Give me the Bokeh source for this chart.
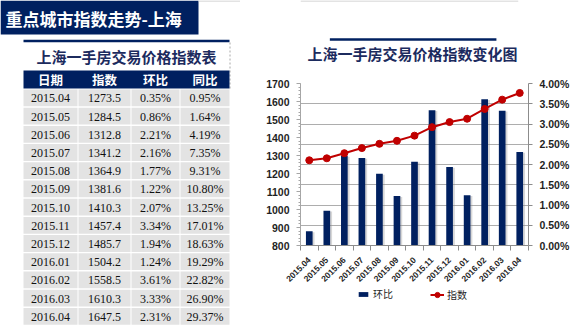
import numpy as np
from bokeh.plotting import figure
from bokeh.layouts import row, column
from bokeh.models import (Range1d, LinearAxis, SingleIntervalTicker, FixedTicker,
                          NumeralTickFormatter, Grid, Legend, LegendItem)
from bokeh.core.properties import value
from bokeh.embed import file_html
from bokeh.resources import INLINE

# ---------------- data ----------------
months = ["2015.04", "2015.05", "2015.06", "2015.07", "2015.08", "2015.09", "2015.10",
          "2015.11", "2015.12", "2016.01", "2016.02", "2016.03", "2016.04"]
index_values = [1273.5, 1284.5, 1312.8, 1341.2, 1364.9, 1381.6, 1410.3,
                1457.4, 1485.7, 1504.2, 1558.5, 1610.3, 1647.5]
mom_pct = [0.35, 0.86, 2.21, 2.16, 1.77, 1.22, 2.07, 3.34, 1.94, 1.24, 3.61, 3.33, 2.31]
yoy_pct = [0.95, 1.64, 4.19, 7.35, 9.31, 10.80, 13.25, 17.01, 18.63, 19.29, 22.82, 26.90, 29.37]
table_headers = ["日期", "指数", "环比", "同比"]
page_title = "重点城市指数走势-上海"
table_title = "上海一手房交易价格指数表"
chart_title = "上海一手房交易价格指数变化图"
bar_name = "环比"
line_name = "指数"

# ---------------- styles ----------------
CJK = "Noto Sans CJK SC"
SANS = "Liberation Sans"
SERIF = "Liberation Serif"
NAVY = "#002060"
TITLE_NAVY = "#1C2B5E"
RED = "#C00000"
GRAY_AXIS = "#8C8C8C"


def blank(fig):
    fig.axis.visible = False
    fig.grid.visible = False
    fig.outline_line_color = None
    fig.background_fill_color = "white"
    fig.border_fill_color = "white"


# ---------------- left: banner + table ----------------
t = figure(width=240, height=330, x_range=Range1d(0, 240), y_range=Range1d(330, 0),
           output_backend="svg", toolbar_location=None, min_border=0)
blank(t)

t.quad(left=[0], right=[198], top=[0], bottom=[34], fill_color=NAVY, line_color=None)
t.text(x=[5], y=[17.5], text=[page_title], text_font=value(CJK), text_font_style="bold",
       text_font_size="17px", text_color="white", text_baseline="middle", text_align="left")
t.segment(x0=[198], y0=[0.5], x1=[240], y1=[0.5], line_color="#C8C8C8", line_width=1)

t.segment(x0=[23], y0=[40.5], x1=[229], y1=[40.5], line_color=NAVY, line_width=2.5)
t.segment(x0=[229.5], y0=[42], x1=[229.5], y1=[88], line_color="#A8A8A8", line_width=1,
          line_dash="2 2")
t.text(x=[126], y=[55.5], text=[table_title], text_font=value(CJK), text_font_style="bold",
       text_font_size="15px", text_color=TITLE_NAVY, text_baseline="middle", text_align="center")

col_left = np.array([23, 78, 131, 180])
col_right = np.array([77, 130, 179, 229])
col_mid = (col_left + col_right) / 2.0

t.quad(left=[23], right=[229], top=[70], bottom=[88], fill_color=NAVY, line_color=None)
t.text(x=list(col_mid), y=[79] * 4, text=table_headers, text_font=value(CJK),
       text_font_style="bold", text_font_size="12.5px", text_color="white",
       text_baseline="middle", text_align="center")

n = len(months)
row_top = 89 + 18.2 * np.arange(n)
row_h = 16.8
cl, cr, ct, cb = [], [], [], []
for i in range(n):
    for j in range(4):
        cl.append(col_left[j]); cr.append(col_right[j])
        ct.append(row_top[i]); cb.append(row_top[i] + row_h)
t.quad(left=cl, right=cr, top=ct, bottom=cb, fill_color="#E3E3E3", line_color=None)

cells_x, cells_y, cells_t = [], [], []
for i in range(n):
    vals = [months[i], f"{index_values[i]:.1f}", f"{mom_pct[i]:.2f}%", f"{yoy_pct[i]:.2f}%"]
    for j in range(4):
        cells_x.append(col_mid[j]); cells_y.append(row_top[i] + row_h / 2 + 0.5)
        cells_t.append(vals[j])
t.text(x=cells_x, y=cells_y, text=cells_t, text_font=value(SERIF), text_font_size="12px",
       text_color="#111111", text_baseline="middle", text_align="center")

# ---------------- right top: chart title ----------------
h = figure(width=334, height=70, x_range=Range1d(240, 574), y_range=Range1d(70, 0),
           output_backend="svg", toolbar_location=None, min_border=0)
blank(h)
h.segment(x0=[240], y0=[0.5], x1=[559], y1=[0.5], line_color="#C8C8C8", line_width=1)
h.segment(x0=[283], y0=[39], x1=[527], y1=[39], line_color=NAVY, line_width=2.5)
h.text(x=[404], y=[53], text=[chart_title], text_font=value(CJK), text_font_style="bold",
       text_font_size="15px", text_color=TITLE_NAVY, text_baseline="middle", text_align="center")

# ---------------- right: combo chart ----------------
p = figure(width=334, height=217, x_range=Range1d(0, n), y_range=Range1d(800, 1700),
           min_border_left=60, min_border_right=46, min_border_top=13, min_border_bottom=40,
           output_backend="svg", toolbar_location=None)
p.outline_line_color = None
p.background_fill_color = "white"
p.border_fill_color = "white"
p.xgrid.visible = False
p.ygrid.visible = False
p.extra_y_ranges = {"pct": Range1d(0, 0.04)}

centers = np.arange(n) + 0.5
mom_frac = np.array(mom_pct) / 100.0

grid = Grid(dimension=1, y_range_name="pct",
            ticker=FixedTicker(ticks=[0.005, 0.01, 0.015, 0.02, 0.025, 0.03, 0.035]),
            grid_line_color="#ADADAD", grid_line_width=1)
p.add_layout(grid)

# bar shadow + bars (环比, right axis)
p.vbar(x=centers + 0.11, top=mom_frac - 0.0002, width=0.38, y_range_name="pct",
       fill_color="#8C8C8C", fill_alpha=0.35, line_color=None)
bars = p.vbar(x=centers, top=mom_frac, width=0.38, y_range_name="pct",
              fill_color=NAVY, line_color=None)

# line (指数, left axis)
ln = p.line(x=centers, y=index_values, line_color=RED, line_width=2)
pts = p.scatter(x=centers, y=index_values, size=7, fill_color=RED, line_color=RED)

# axes
xa = p.xaxis[0]
xa.ticker = FixedTicker(ticks=list(centers), minor_ticks=list(range(n + 1)))
xa.major_label_overrides = {float(c): m for c, m in zip(centers, months)}
xa.major_label_orientation = np.pi / 4
xa.major_tick_out = 0
xa.major_tick_in = 0
xa.major_tick_line_color = None
xa.minor_tick_out = 5
xa.minor_tick_in = 0
xa.minor_tick_line_color = GRAY_AXIS
xa.axis_line_color = GRAY_AXIS
xa.major_label_standoff = 8
xa.major_label_text_font = SANS
xa.major_label_text_font_style = "bold"
xa.major_label_text_font_size = "8.5px"
xa.major_label_text_color = "#262626"

ya = p.yaxis[0]
ya.ticker = SingleIntervalTicker(interval=100, num_minor_ticks=5)
ya.major_tick_out = 4
ya.major_tick_in = 0
ya.minor_tick_out = 2
ya.minor_tick_in = 0
ya.axis_line_color = "#A6A6A6"
ya.major_tick_line_color = "#A6A6A6"
ya.minor_tick_line_color = "#A6A6A6"
ya.major_label_standoff = 7
ya.major_label_text_font = SANS
ya.major_label_text_font_style = "bold"
ya.major_label_text_font_size = "10.5px"
ya.major_label_text_color = "#1F1F1F"

ra = LinearAxis(y_range_name="pct", ticker=SingleIntervalTicker(interval=0.005, num_minor_ticks=0),
                formatter=NumeralTickFormatter(format="0.00%"))
ra.major_tick_out = 4
ra.major_tick_in = 0
ra.minor_tick_line_color = None
ra.axis_line_color = GRAY_AXIS
ra.major_tick_line_color = GRAY_AXIS
ra.major_label_standoff = 7
ra.major_label_text_font = SANS
ra.major_label_text_font_style = "bold"
ra.major_label_text_font_size = "10.5px"
ra.major_label_text_color = "#1F1F1F"
p.add_layout(ra, "right")

# ---------------- legend strip below the chart ----------------
lg = figure(width=334, height=43, x_range=Range1d(240, 574), y_range=Range1d(330, 287),
            output_backend="svg", toolbar_location=None, min_border=0)
blank(lg)
# legend proxies that share the series' styles (NaN data: nothing drawn in the strip)
bar_key = lg.vbar(x=[np.nan], top=[np.nan], width=0.38, fill_color=NAVY, line_color=None)
line_key = lg.line(x=[np.nan], y=[np.nan], line_color=RED, line_width=2)
pt_key = lg.scatter(x=[np.nan], y=[np.nan], fill_color=RED, line_color=RED)

common = dict(orientation="horizontal", padding=0, margin=0, border_line_color=None,
              background_fill_alpha=0, label_text_font=CJK, label_text_font_size="10px",
              label_text_color="#1F1F1F", label_height=12, label_text_line_height=1.0)
leg_bar = Legend(items=[LegendItem(label=bar_name, renderers=[bar_key])],
                 location=(57, 29), glyph_width=12, glyph_height=6, label_standoff=4, **common)
leg_line = Legend(items=[LegendItem(label=line_name, renderers=[line_key, pt_key])],
                  location=(130, 28.5), glyph_width=14, glyph_height=13, label_standoff=3, **common)
lg.add_layout(leg_bar)
lg.add_layout(leg_line)

layout = row(t, column(h, p, lg))
open("out.html", "w").write(file_html(layout, INLINE))
